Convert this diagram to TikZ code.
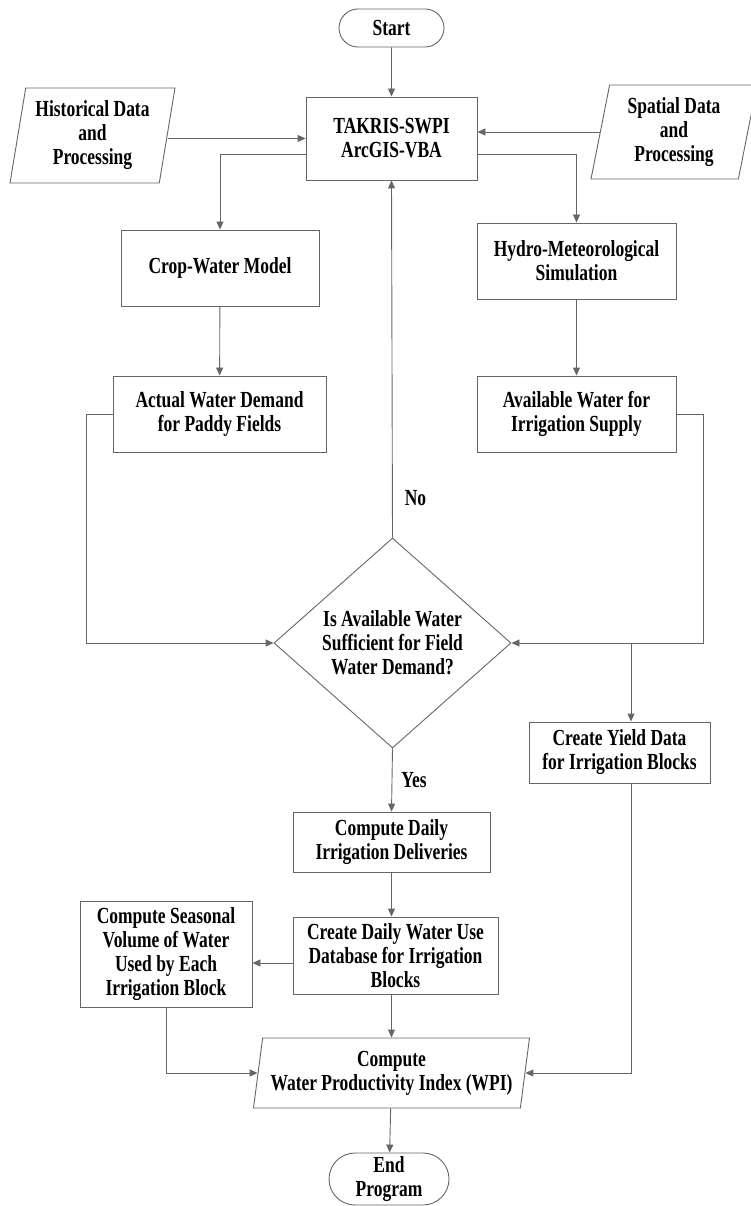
\documentclass[tikz,border=0pt]{standalone}
\usepackage{fontspec}
\setmainfont{Liberation Serif}[FakeStretch=0.76]
\usetikzlibrary{shapes,arrows.meta,positioning,calc}

\begin{document}
\begin{tikzpicture}[x=1pt, y=-1pt,
    every node/.style={font=\bfseries\fontsize{23}{24}\selectfont, align=center, inner sep=0pt},
    ln/.style={draw=black!60, line width=0.9pt},
    arr/.style={ln, -{Triangle[length=8pt,width=7pt]}},
    box/.style={rectangle, ln},
    term/.style={rounded rectangle, ln},
    io/.style={trapezium, trapezium left angle=79, trapezium right angle=101, trapezium stretches=true, ln},
    test/.style={diamond, ln}]
    \useasboundingbox (0,0) rectangle (750,1206);

    % start, inputs and the main tool
    \node[term, minimum width=105, minimum height=38] (start) at (391.5,28) {Start};
    \node[box, minimum width=171, minimum height=83] (core) at (391.5,138.5) {TAKRIS-SWPI\\ArcGIS-VBA};
    \node[io, minimum width=165, minimum height=95] (hist) at (92.5,135.5) {Historical Data\\and\\Processing};
    \node[io, minimum width=166, minimum height=94] (spat) at (674,132) {Spatial Data\\and\\Processing};

    % demand and supply branches
    \node[box, minimum width=198, minimum height=76] (crop) at (220,268) {Crop-Water Model};
    \node[box, minimum width=199, minimum height=76] (hydro) at (576.5,261) {Hydro-Meteorological\\Simulation};
    \node[box, minimum width=213, minimum height=76] (demand) at (219.5,414) {Actual Water Demand\\for Paddy Fields};
    \node[box, minimum width=199, minimum height=76] (supply) at (576.5,414) {Available Water for\\Irrigation Supply};

    % decision
    \node[test, minimum width=237, minimum height=210] (check) at (392.5,643) {Is Available Water\\Sufficient for Field\\Water Demand?};

    % lower part
    \node[box, minimum width=181, minimum height=61] (yield) at (619.5,752.5) {Create Yield Data\\for Irrigation Blocks};
    \node[box, minimum width=197, minimum height=60] (deliv) at (391.5,842) {Compute Daily\\Irrigation Deliveries};
    \node[box, minimum width=205, minimum height=77] (wuse) at (395.5,955.5) {Create Daily Water Use\\Database for Irrigation\\Blocks};
    \node[box, minimum width=172, minimum height=106] (season) at (166,954) {Compute Seasonal\\Volume of Water\\Used by Each\\Irrigation Block};
    \node[io, minimum width=277, minimum height=70] (wpi) at (391.5,1073) {Compute\\Water Productivity Index (WPI)};
    \node[term, minimum width=120, minimum height=52] (finish) at (389,1179) {End\\Program};

    % connectors
    \draw[arr] (start) -- (core);
    \draw[arr] (hist.east |- core.west) -- (core.west);
    \draw[arr] (spat.west) -- (spat.west -| core.east);
    \draw[arr] ([yshift=-15.5pt]core.west) -| (crop.north);
    \draw[arr] ([yshift=-15.5pt]core.east) -| (hydro.north);
    \draw[arr] (crop) -- (demand);
    \draw[arr] (hydro) -- (supply);
    \draw[arr] (demand.west) -- ++(-26,0) |- (check.west);
    \draw[arr] (supply.east) -- ++(27,0) |- (check.east);
    \coordinate (split) at (631,643);
    \draw[arr] (split) -- (split |- yield.north);
    \draw[arr] (split |- yield.south) |- (wpi.east);
    \draw[arr] (check.north) -- (core.south) node[pos=0.11, right=12pt] {No};
    \draw[arr] (check.south) -- (deliv.north) node[midway, right=9pt] {Yes};
    \draw[arr] (deliv) -- (deliv |- wuse.north);
    \draw[arr] ([yshift=-7.5pt]wuse.west) -- ([yshift=-7.5pt]wuse.west -| season.east);
    \draw[arr] (deliv |- wuse.south) -- (deliv |- wpi.north);
    \draw[arr] (season.south) |- (wpi.west);
    \draw[arr] (wpi) -- (finish);
\end{tikzpicture}
\end{document}
